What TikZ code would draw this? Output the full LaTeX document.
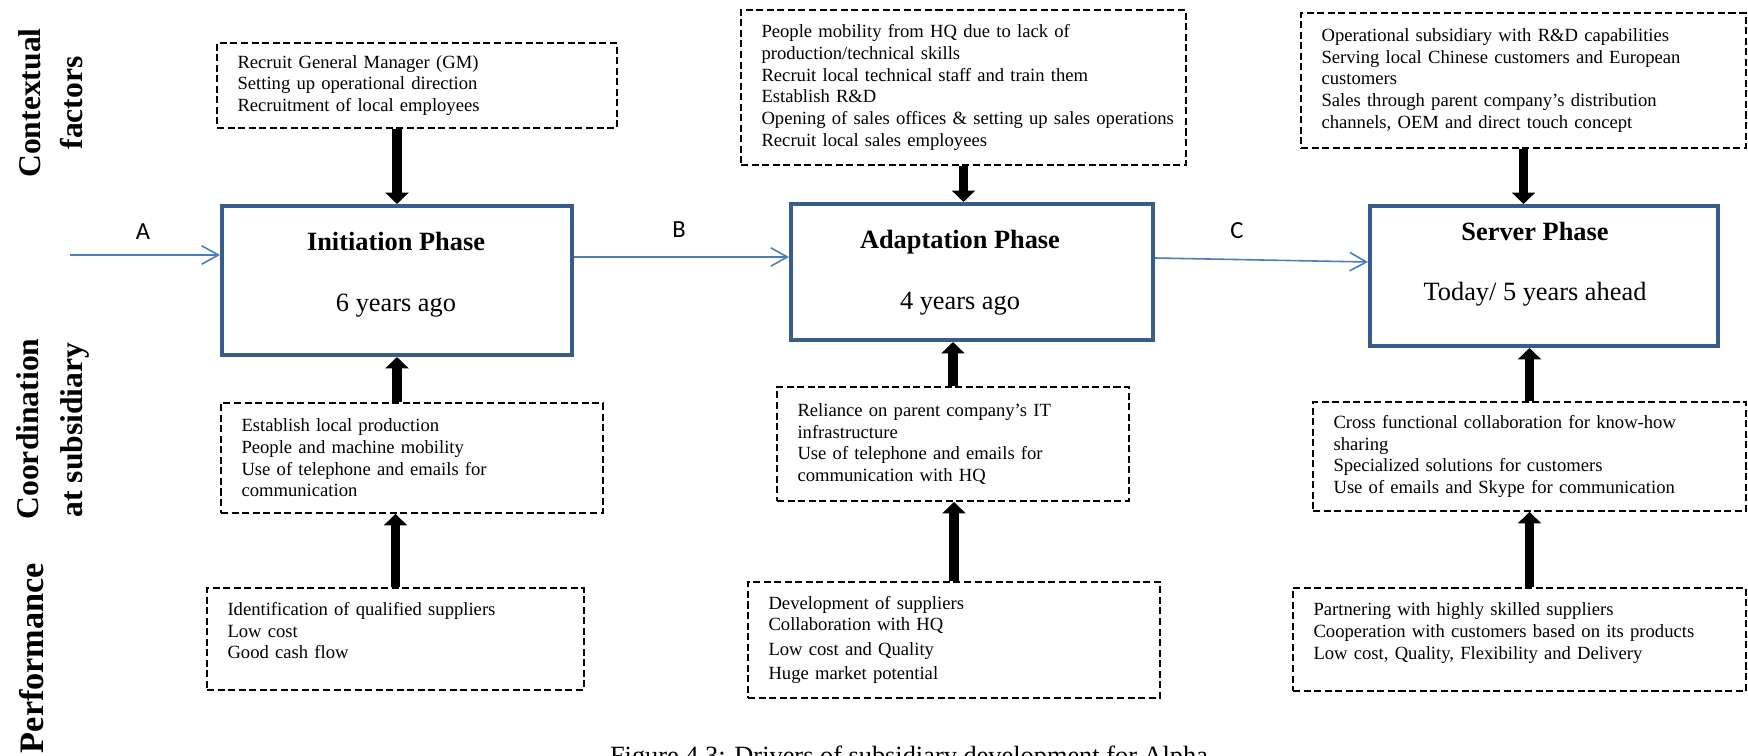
\documentclass[tikz,border=0pt]{standalone}
\usepackage{fontspec}
\setmainfont{Liberation Serif}
\newfontfamily\linkfont{Carlito}
\usetikzlibrary{arrows.meta}
\definecolor{phaseblue}{HTML}{385D8A}
\definecolor{linkblue}{HTML}{4A7EBB}

\begin{document}
\begin{tikzpicture}[
    x=0.02cm, y=-0.02cm,% one unit = one pixel of the layout
       phase/.style = {draw=phaseblue, line width=2.3pt, inner sep=0pt},% phase boxes
   phasename/.style = {anchor=base, font=\fontsize{15}{18}\selectfont\bfseries},
   phasetime/.style = {anchor=base, font=\fontsize{15}{18}\selectfont},
        dbox/.style = {draw, line width=1.1pt, dash pattern=on 4pt off 2pt,
                       text width=#1, inner xsep=0pt, inner ysep=2pt, align=left,
                       font=\fontsize{10.6}{12.35}\selectfont,
                       execute at begin node={\leftskip=0.41cm\relax}},% factor boxes
    rowlabel/.style = {rotate=90, anchor=base, font=\fontsize{18}{21}\selectfont\bfseries},
   linklabel/.style = {anchor=base, font=\linkfont\fontsize{14}{17}\selectfont},
        link/.style = {draw=linkblue, line width=0.9pt, -{Straight Barb[length=9.5pt,width=10.5pt]}},
       drive/.style = {line width=5.5pt, -{Triangle[length=6.5pt,width=13pt]}}
    ]
    \useasboundingbox (0,0) rectangle (1748,756);
    % row labels
    \node (ctxA) [rowlabel] at (40,103) {Contextual};
    \node (ctxB) [rowlabel] at (82,103) {factors};
    \node (crdA) [rowlabel] at (38,429) {Coordination};
    \node (crdB) [rowlabel] at (82,430) {at subsidiary};
    \node (prf) [rowlabel, font=\fontsize{19.5}{23}\selectfont\bfseries] at (43,658) {Performance};
    % phases
    \node (init) [phase, minimum width=7cm, minimum height=2.98cm] at (397,280.5) {};
    \node (adapt) [phase, minimum width=7.24cm, minimum height=2.72cm] at (972,272) {};
    \node (server) [phase, minimum width=6.96cm, minimum height=2.8cm] at (1544,276) {};
    \node (initname) [phasename] at (396,251) {Initiation Phase};
    \node (inittime) [phasetime] at (396,312) {6 years ago};
    \node (adaptname) [phasename] at (960,249) {Adaptation Phase};
    \node (adapttime) [phasetime] at (960,310) {4 years ago};
    \node (servername) [phasename] at (1535,241) {Server Phase};
    \node (servertime) [phasetime] at (1535,301) {Today/ 5 years ahead};
    % contextual factors
    \node (ctx1) [dbox=8cm, minimum height=1.7cm] at (417,85.5)
        {Recruit General Manager (GM)\\ Setting up operational direction\\ Recruitment of local employees};
    \node (ctx2) [dbox=8.9cm, minimum height=3.1cm] at (963.5,87.5)
        {People mobility from HQ due to lack of\\ production/technical skills\\ Recruit local technical staff and train them\\ Establish R\&D\\ Opening of sales offices \& setting up sales operations\\ Recruit local sales employees};
    \node (ctx3) [dbox=8.9cm, minimum height=2.7cm] at (1523.5,80.5)
        {Operational subsidiary with R\&D capabilities\\ Serving local Chinese customers and European\\ customers\\ Sales through parent company’s distribution\\ channels, OEM and direct touch concept};
    % coordination at subsidiary
    \node (coord1) [dbox=7.64cm, minimum height=2.2cm] at (412,458)
        {Establish local production\\ People and machine mobility\\ Use of telephone and emails for\\ communication};
    \node (coord2) [dbox=7.04cm, minimum height=2.28cm] at (953,444)
        {Reliance on parent company’s IT\\ infrastructure\\ Use of telephone and emails for\\ communication with HQ};
    \node (coord3) [dbox=8.66cm, minimum height=2.18cm] at (1529.5,456.5)
        {Cross functional collaboration for know-how\\ sharing\\ Specialized solutions for customers\\ Use of emails and Skype for communication};
    % performance
    \node (perf1) [dbox=7.54cm, minimum height=2.04cm] at (395.5,639)
        {Identification of qualified suppliers\\ Low cost\\ Good cash flow\rule[-9.5pt]{0pt}{1pt}};
    \node (perf2) [dbox=8.24cm, minimum height=2.32cm] at (954,640)
        {Development of suppliers\\ Collaboration with HQ\\[1.8pt] Low cost and Quality\\[1.3pt] Huge market potential};
    \node (perf3) [dbox=9.06cm, minimum height=2.06cm] at (1519.5,639.5)
        {Partnering with highly skilled suppliers\\ Cooperation with customers based on its products\\ Low cost, Quality, Flexibility and Delivery\rule[-9.5pt]{0pt}{1pt}};
    % phase transitions
    \coordinate (ain) at (70,255);
    \draw[link] (ain) -- (ain -| init.west);
    \draw[link] (init.east |- 0,257) -- (adapt.west |- 0,257);
    \draw[link] (adapt.east |- 0,258) -- (server.west |- 0,262);
    \node (lblA) [linklabel] at (143,240) {A};
    \node (lblB) [linklabel] at (679,238) {B};
    \node (lblC) [linklabel] at (1237,239) {C};
    % drivers
    \draw[drive] (ctx1.south -| init.north) -- (init.north);
    \draw[drive] (coord1.north -| init.south) -- (init.south);
    \draw[drive] (perf1.north) -- (perf1.north |- coord1.south);
    \draw[drive] (ctx2.south) -- (ctx2.south |- adapt.north);
    \draw[drive] (coord2.north) -- (coord2.north |- adapt.south);
    \draw[drive] (perf2.north) -- (perf2.north |- coord2.south);
    \draw[drive] (ctx3.south) -- (ctx3.south |- server.north);
    \draw[drive] (coord3.north) -- (coord3.north |- server.south);
    \draw[drive] (coord3.south |- perf3.north) -- (coord3.south);
    % caption, cut by the page edge
    \node (caption) [anchor=base, font=\fontsize{15}{18}\selectfont] at (909,764)
        {Figure 4.3: Drivers of subsidiary development for Alpha};
\end{tikzpicture}
\end{document}
